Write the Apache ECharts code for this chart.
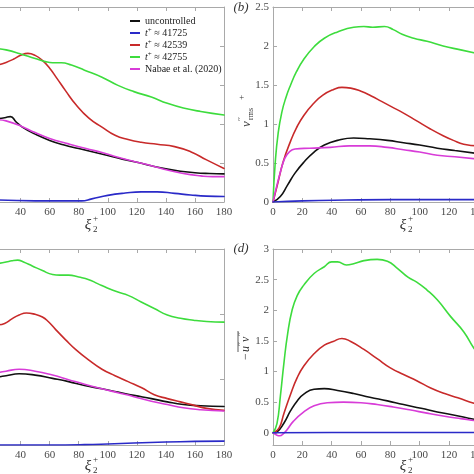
<!DOCTYPE html>
<html>
<head>
<meta charset="utf-8">
<script src="https://cdn.jsdelivr.net/npm/echarts@6/dist/echarts.min.js"></script>
<style>html,body{margin:0;padding:0;background:#fff;overflow:hidden;width:474px;height:474px;position:relative;}#c{position:absolute;left:-50px;top:0;width:600px;height:474px;}</style>
</head>
<body>
<div id="c"></div>
<script>
// ---------- data ----------
const seriesNames = ['uncontrolled', 't+ ≈ 41725', 't+ ≈ 42539', 't+ ≈ 42755', 'Nabae et al. (2020)'];
const yTicksD = [0, 0.5, 1, 1.5, 2, 2.5, 3];

// panel (a)
const aBlack = [[25,2.14],[29,2.16],[33,2.19],[37,2.05],[42,1.9],[50,1.74],[60,1.58],[70,1.46],[80,1.37],[90,1.28],[100,1.19],[110,1.1],[120,1.02],[130,0.93],[140,0.85],[150,0.79],[160,0.75],[170,0.73],[180,0.72]];
const aBlue = [[25,0.05],[50,0.03],[82,0.03],[89,0.08],[100,0.17],[112,0.23],[123,0.26],[134,0.26],[146,0.22],[157,0.18],[168,0.15],[180,0.14]];
const aRed = [[25,3.52],[30,3.58],[35,3.66],[40,3.76],[45,3.81],[50,3.76],[55,3.63],[60,3.43],[65,3.17],[71,2.85],[78,2.5],[87,2.15],[96,1.92],[105,1.71],[114,1.6],[123,1.53],[134,1.48],[146,1.42],[157,1.29],[168,1.08],[180,0.86]];
const aGreen = [[25,3.93],[30,3.9],[39,3.81],[50,3.68],[57,3.6],[62,3.57],[68,3.57],[75,3.51],[84,3.38],[96,3.2],[107,2.99],[118,2.83],[130,2.69],[141,2.53],[152,2.41],[164,2.32],[180,2.23]];
const aMagenta = [[25,2.11],[30,2.08],[40,1.95],[50,1.78],[60,1.63],[73,1.49],[85,1.37],[96,1.27],[107,1.15],[118,1.04],[130,0.93],[141,0.82],[152,0.73],[164,0.67],[172,0.65],[180,0.65]];

// panel (b)
const bBlack = [[0,0],[5,0.07],[10,0.22],[15,0.37],[21,0.51],[28,0.64],[35,0.73],[44,0.79],[55,0.82],[66,0.81],[78,0.79],[89,0.76],[100,0.73],[112,0.69],[124,0.66],[140,0.62]];
const bBlue = [[0,0],[20,0.015],[50,0.025],[80,0.03],[110,0.03],[140,0.03]];
const bRed = [[0,0],[3,0.22],[7,0.52],[12,0.78],[16,0.95],[21,1.11],[28,1.27],[34,1.37],[41,1.44],[47,1.47],[53,1.46],[60,1.42],[67,1.36],[74,1.29],[81,1.22],[89,1.14],[98,1.04],[107,0.94],[116,0.85],[123,0.79],[130,0.74],[140,0.72]];
const bGreen = [[0,0],[1.5,0.5],[3.5,0.88],[6,1.15],[9,1.35],[12,1.5],[16,1.67],[21,1.83],[28,1.99],[35,2.1],[44,2.18],[55,2.24],[62,2.25],[68,2.24],[76,2.25],[82,2.21],[88,2.15],[96,2.1],[105,2.06],[116,2.0],[128,1.95],[140,1.9]];
const bMagenta = [[0,0],[2.5,0.2],[5,0.38],[8,0.56],[11,0.64],[15,0.68],[25,0.69],[39,0.7],[52,0.72],[66,0.72],[78,0.7],[89,0.67],[100,0.64],[112,0.6],[124,0.58],[140,0.55]];

// panel (c)
const cBlack = [[25,1.04],[30,1.06],[39,1.09],[50,1.07],[62,1.02],[73,0.97],[84,0.91],[96,0.86],[107,0.81],[118,0.76],[130,0.71],[141,0.66],[152,0.62],[164,0.6],[180,0.59]];
const cBlue = [[25,0],[60,0],[84,0.005],[100,0.015],[118,0.03],[140,0.045],[160,0.055],[180,0.06]];
const cRed = [[25,1.84],[29,1.86],[34,1.93],[39,1.99],[44,2.02],[50,2.0],[55,1.96],[59,1.89],[64,1.77],[71,1.61],[78,1.46],[87,1.3],[96,1.16],[105,1.06],[114,0.97],[123,0.88],[132,0.77],[141,0.71],[150,0.66],[159,0.61],[168,0.56],[180,0.53]];
const cGreen = [[25,2.78],[30,2.8],[34,2.82],[38,2.83],[42,2.8],[48,2.74],[55,2.67],[62,2.61],[67,2.6],[73,2.6],[80,2.57],[87,2.53],[93,2.47],[100,2.4],[107,2.34],[114,2.29],[123,2.19],[132,2.09],[141,1.99],[150,1.94],[159,1.91],[168,1.89],[180,1.88]];
const cMagenta = [[25,1.11],[30,1.13],[39,1.16],[50,1.13],[62,1.07],[73,1.0],[84,0.93],[96,0.86],[107,0.8],[118,0.74],[130,0.67],[141,0.62],[152,0.57],[164,0.54],[180,0.52]];

// panel (d)
const dBlack = [[0,0],[3,0.02],[7.5,0.16],[12,0.36],[16.5,0.52],[21,0.63],[28,0.71],[35,0.72],[44,0.69],[55,0.64],[66,0.58],[78,0.52],[89,0.46],[101,0.4],[112,0.34],[123,0.29],[137,0.22],[140,0.21]];
const dBlue = [[0,0],[40,0.003],[80,0.005],[140,0.005]];
const dRed = [[0,0],[4,0.07],[7.5,0.32],[12,0.63],[16.5,0.9],[21,1.09],[28,1.29],[35,1.43],[41,1.49],[47,1.54],[53,1.49],[62,1.36],[71,1.21],[80,1.06],[89,0.95],[98,0.85],[107.5,0.73],[117,0.64],[126,0.57],[137,0.48],[140,0.46]];
const dGreen = [[0,0],[2.7,0.15],[5,0.59],[7.5,1.15],[10,1.62],[13,2.0],[16.5,2.24],[21,2.41],[28,2.6],[35,2.71],[40,2.79],[44,2.79],[50,2.74],[55,2.76],[62,2.81],[71,2.83],[78,2.8],[85,2.68],[92,2.54],[98,2.46],[105,2.33],[112,2.17],[121,1.9],[130,1.65],[137,1.38],[140,1.3]];
const dMagenta = [[0,0],[2.7,-0.04],[4.6,-0.05],[7.3,-0.01],[9.6,0.05],[14,0.19],[21,0.34],[28,0.44],[37,0.49],[48,0.5],[60,0.49],[71,0.46],[82,0.42],[94,0.37],[105,0.32],[117,0.27],[128,0.23],[137,0.2],[140,0.19]];

// ---------- styling ----------
const OX = 50; // container is shifted 50px left of the window
const colors = ['#111111', '#2a2ac8', '#c82a2a', '#3ddc3d', '#d83cd8'];
const frame = '#a9a9a9';
const serif = '"Liberation Serif","DejaVu Serif",serif';
const labelColor = '#4a4a4a';
const txt = '#333';

const panels = [
  {grid:{left:OX-40.5, top:7, width:264.5, height:195}, y:{min:0, max:5, interval:1}, data:[aBlack,aBlue,aRed,aGreen,aMagenta]},
  {grid:{left:OX+273, top:7, width:264, height:195}, y:{min:0, max:2.5, interval:0.5}, data:[bBlack,bBlue,bRed,bGreen,bMagenta]},
  {grid:{left:OX-40.5, top:249, width:264.5, height:196}, y:{min:0, max:3, interval:1}, data:[cBlack,cBlue,cRed,cGreen,cMagenta]},
  {grid:{left:OX+273, top:249, width:264, height:196}, y:{min:-0.2, max:3, custom:yTicksD}, data:[dBlack,dBlue,dRed,dGreen,dMagenta]}
];

const grids = [], xAxes = [], yAxes = [], series = [];
panels.forEach((p, i) => {
  grids.push(p.grid);
  const xBase = {gridIndex:i, type:'value', min:0, max:180, interval:20,
    axisLine:{show:true, onZero:false, lineStyle:{color:frame, width:1}},
    axisTick:{show:true, inside:true, length:4, lineStyle:{color:frame}},
    splitLine:{show:false}};
  xAxes.push(Object.assign({}, xBase, {position:'bottom',
    axisLabel:{show:true, color:labelColor, fontFamily:serif, fontSize:11, margin:5}}));
  xAxes.push(Object.assign({}, xBase, {position:'top', axisLabel:{show:false}}));
  const yBase = {gridIndex:i, type:'value', min:p.y.min, max:p.y.max,
    axisLine:{show:true, onZero:false, lineStyle:{color:frame, width:1}},
    splitLine:{show:false}};
  if (p.y.interval) yBase.interval = p.y.interval;
  const tick = {show:true, inside:true, length:4, lineStyle:{color:frame}};
  const lab = {show:true, color:labelColor, fontFamily:serif, fontSize:11, margin:4};
  if (p.y.custom) { tick.customValues = p.y.custom; lab.customValues = p.y.custom; }
  yAxes.push(Object.assign({}, yBase, {position:'left', axisTick:tick, axisLabel:lab}));
  yAxes.push(Object.assign({}, yBase, {position:'right', axisTick:Object.assign({}, tick), axisLabel:{show:false}}));
  p.data.forEach((d, k) => {
    series.push({type:'line', name:seriesNames[k], xAxisIndex:2*i, yAxisIndex:2*i,
      data:d, showSymbol:false, symbol:'none', smooth:0.5,
      lineStyle:{color:colors[k], width:1.6, cap:'round', join:'round'}, itemStyle:{color:colors[k]},
      z: k === 1 ? 3 : 2});
  });
});

function xiLabel(cx, cy) {
  return {type:'group', x:OX+cx, y:cy, silent:true, children:[
    {type:'text', x:0, y:0, style:{text:'ξ', fontFamily:serif, fontStyle:'italic', fontSize:15, fill:txt, align:'center', verticalAlign:'middle'}},
    {type:'text', x:5, y:-6, style:{text:'+', fontFamily:serif, fontSize:9, fill:txt, align:'left', verticalAlign:'middle'}},
    {type:'text', x:5, y:5, style:{text:'2', fontFamily:serif, fontSize:9, fill:txt, align:'left', verticalAlign:'middle'}}
  ]};
}

const graphics = [
  xiLabel(88, 225), xiLabel(403, 225), xiLabel(88, 466), xiLabel(403, 466),
  {type:'text', x:OX+241, y:8, silent:true, style:{text:'(b)', fontFamily:serif, fontStyle:'italic', fontSize:13, fill:txt, align:'center', verticalAlign:'middle'}},
  {type:'text', x:OX+241, y:249, silent:true, style:{text:'(d)', fontFamily:serif, fontStyle:'italic', fontSize:13, fill:txt, align:'center', verticalAlign:'middle'}},
  // v''_rms^+  (rotated)
  {type:'group', x:OX+247, y:127, rotation:Math.PI/2, silent:true, children:[
    {type:'text', x:0, y:0, style:{text:'v', fontFamily:serif, fontStyle:'italic', fontSize:13, fill:txt, align:'left', verticalAlign:'middle'}},
    {type:'text', x:6, y:-5, style:{text:'′′', fontFamily:serif, fontSize:9, fill:txt, align:'left', verticalAlign:'middle'}},
    {type:'text', x:7, y:4, style:{text:'rms', fontFamily:serif, fontSize:8, fill:txt, align:'left', verticalAlign:'middle'}},
    {type:'text', x:27, y:-5, style:{text:'+', fontFamily:serif, fontSize:9, fill:txt, align:'left', verticalAlign:'middle'}}
  ]},
  // -overline(u''v'')  (rotated)
  {type:'group', x:OX+246, y:360, rotation:Math.PI/2, silent:true, children:[
    {type:'text', x:0, y:0, style:{text:'−', fontFamily:serif, fontSize:12, fill:txt, align:'left', verticalAlign:'middle'}},
    {type:'text', x:8, y:0, style:{text:'u', fontFamily:serif, fontStyle:'italic', fontSize:12, fill:txt, align:'left', verticalAlign:'middle'}},
    {type:'text', x:14, y:-4, style:{text:'′′', fontFamily:serif, fontSize:9, fill:txt, align:'left', verticalAlign:'middle'}},
    {type:'text', x:18, y:0, style:{text:'v', fontFamily:serif, fontStyle:'italic', fontSize:12, fill:txt, align:'left', verticalAlign:'middle'}},
    {type:'text', x:24, y:-4, style:{text:'′′', fontFamily:serif, fontSize:9, fill:txt, align:'left', verticalAlign:'middle'}},
    {type:'line', shape:{x1:8, y1:-8, x2:29, y2:-8}, style:{stroke:txt, lineWidth:0.8}}
  ]}
];

const chart = echarts.init(document.getElementById('c'), null, {renderer:'canvas'});
chart.setOption({
  animation:false,
  backgroundColor:'#ffffff',
  grid:grids, xAxis:xAxes, yAxis:yAxes, series:series,
  legend:{show:true, orient:'vertical', left:OX+125, top:10, itemWidth:10, itemHeight:2, itemGap:0,
    icon:'rect', data:seriesNames, selectedMode:false,
    textStyle:{fontFamily:serif, fontSize:10, color:'#222', lineHeight:12,
      rich:{i:{fontFamily:serif, fontStyle:'italic', fontSize:10, lineHeight:12, color:'#222'},
            s:{fontFamily:serif, fontSize:7, lineHeight:12, verticalAlign:'top', color:'#222'},
            n:{fontFamily:serif, fontSize:10, lineHeight:12, color:'#222'}}},
    formatter:function(name){
      if (name.indexOf('t+') === 0) return '{i|t}{s|+}{n|' + name.slice(2) + '}';
      return name;
    }},
  graphic:graphics
});
</script>
</body>
</html>
